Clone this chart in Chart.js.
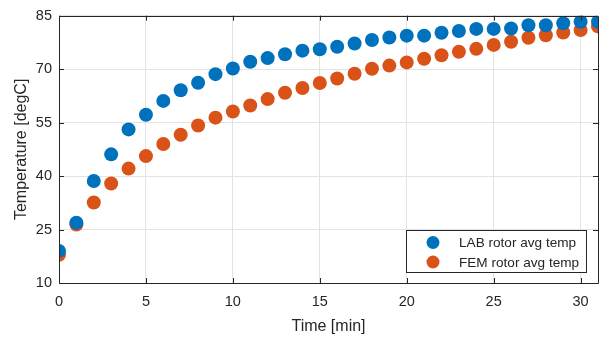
<!DOCTYPE html>
<html>
<head>
<meta charset="utf-8">
<script src="https://cdn.jsdelivr.net/npm/chart.js@4/dist/chart.umd.min.js"></script>
<style>
  html, body { margin: 0; padding: 0; background: #ffffff; }
  #wrap { position: relative; width: 613px; height: 340px; }
</style>
</head>
<body>
<div id="wrap"><canvas id="c" width="613" height="340"></canvas></div>
<script>
const timeMin = [0,1,2,3,4,5,6,7,8,9,10,11,12,13,14,15,16,17,18,19,20,21,22,23,24,25,26,27,28,29,30,31];
const labTemp = [19.0,26.9,38.6,46.1,53.1,57.2,61.1,64.1,66.2,68.6,70.2,72.1,73.1,74.2,75.2,75.6,76.3,77.2,78.2,78.9,79.4,79.4,80.2,80.7,81.3,81.3,81.4,82.3,82.3,82.9,83.3,83.3];
const femTemp = [17.9,26.4,32.6,37.9,42.1,45.6,49.0,51.6,54.2,56.4,58.1,59.8,61.6,63.4,64.7,66.1,67.4,68.7,70.1,71.0,71.9,72.9,73.9,74.9,75.7,76.8,77.7,78.8,79.5,80.3,81.0,82.0];
const seriesNames = ["LAB rotor avg temp", "FEM rotor avg temp"];
const xTicks = [0,5,10,15,20,25,30];
const yTicks = [10,25,40,55,70,85];
const xTitle = "Time [min]";
const yTitle = "Temperature [degC]";

const BLUE = "#0072BD", ORANGE = "#D95319", AXIS = "#262626";
const FONT = "'Liberation Sans', Arial, Helvetica, sans-serif";

function pts(xs, ys) { return xs.map((x, i) => ({ x: x, y: ys[i] })); }

const boxPlugin = {
  id: 'matlabBox',
  afterDatasetsDraw(chart) {
    const ctx = chart.ctx, a = chart.chartArea;
    const xs = chart.scales.x, ys = chart.scales.y;
    ctx.save();
    ctx.strokeStyle = AXIS;
    ctx.lineWidth = 1;
    ctx.beginPath();
    ctx.rect(Math.round(a.left) + 0.5, Math.round(a.top) + 0.5, Math.round(a.right - a.left), Math.round(a.bottom - a.top));
    ctx.stroke();
    const tl = 5;
    ctx.beginPath();
    xTicks.forEach(v => {
      const px = Math.round(xs.getPixelForValue(v)) + 0.5;
      ctx.moveTo(px, a.bottom); ctx.lineTo(px, a.bottom - tl);
      ctx.moveTo(px, a.top); ctx.lineTo(px, a.top + tl);
    });
    yTicks.forEach(v => {
      const py = Math.round(ys.getPixelForValue(v)) + 0.5;
      ctx.moveTo(a.left, py); ctx.lineTo(a.left + tl, py);
      ctx.moveTo(a.right, py); ctx.lineTo(a.right - tl, py);
    });
    ctx.stroke();

    // legend box
    const lx = 406, ly = 230, lw = 180, lh = 42;
    ctx.fillStyle = "#ffffff";
    ctx.fillRect(lx, ly, lw, lh);
    ctx.strokeStyle = AXIS;
    ctx.strokeRect(lx + 0.5, ly + 0.5, lw, lh);
    const cols = [BLUE, ORANGE];
    const rows = [242.5, 262];
    ctx.font = "13.6px " + FONT;
    ctx.textBaseline = "middle";
    ctx.textAlign = "left";
    chart.data.datasets.forEach((ds, i) => {
      ctx.fillStyle = cols[i];
      ctx.beginPath();
      ctx.arc(433, rows[i], 6.5, 0, Math.PI * 2);
      ctx.fill();
      ctx.fillStyle = AXIS;
      ctx.fillText(ds.label, 459, rows[i] + 1);
    });
    ctx.restore();
  }
};

new Chart(document.getElementById('c'), {
  type: 'scatter',
  data: {
    datasets: [
      { label: seriesNames[0], data: pts(timeMin, labTemp), backgroundColor: BLUE, borderColor: BLUE, pointRadius: 7, pointBorderWidth: 0, pointHoverRadius: 7 },
      { label: seriesNames[1], data: pts(timeMin, femTemp), backgroundColor: ORANGE, borderColor: ORANGE, pointRadius: 7, pointBorderWidth: 0, pointHoverRadius: 7 }
    ]
  },
  options: {
    responsive: false,
    animation: false,
    devicePixelRatio: 1,
    layout: { padding: { top: 13, right: 15, left: 0, bottom: 0 } },
    plugins: { legend: { display: false }, tooltip: { enabled: false } },
    scales: {
      x: {
        type: 'linear', min: 0, max: 31,
        afterBuildTicks(s) { s.ticks = xTicks.map(v => ({ value: v })); },
        afterFit(s) { s.height = 57; },
        grid: { color: '#e3e3e3', drawTicks: false, lineWidth: 1 },
        border: { display: false },
        ticks: { color: AXIS, font: { family: FONT, size: 14.5 }, padding: 10, maxRotation: 0 },
        title: { display: true, text: xTitle, color: AXIS, font: { family: FONT, size: 16 }, padding: { top: 0, bottom: 4 } }
      },
      y: {
        type: 'linear', min: 10, max: 85,
        afterBuildTicks(s) { s.ticks = yTicks.map(v => ({ value: v })); },
        afterFit(s) { s.width = 59; },
        grid: { color: '#e3e3e3', drawTicks: false, lineWidth: 1 },
        border: { display: false },
        ticks: { color: AXIS, font: { family: FONT, size: 14.5 }, padding: 7 },
        title: { display: true, text: yTitle, color: AXIS, font: { family: FONT, size: 16 }, padding: { top: 12, bottom: 0 } }
      }
    }
  },
  plugins: [boxPlugin]
});
</script>
</body>
</html>
